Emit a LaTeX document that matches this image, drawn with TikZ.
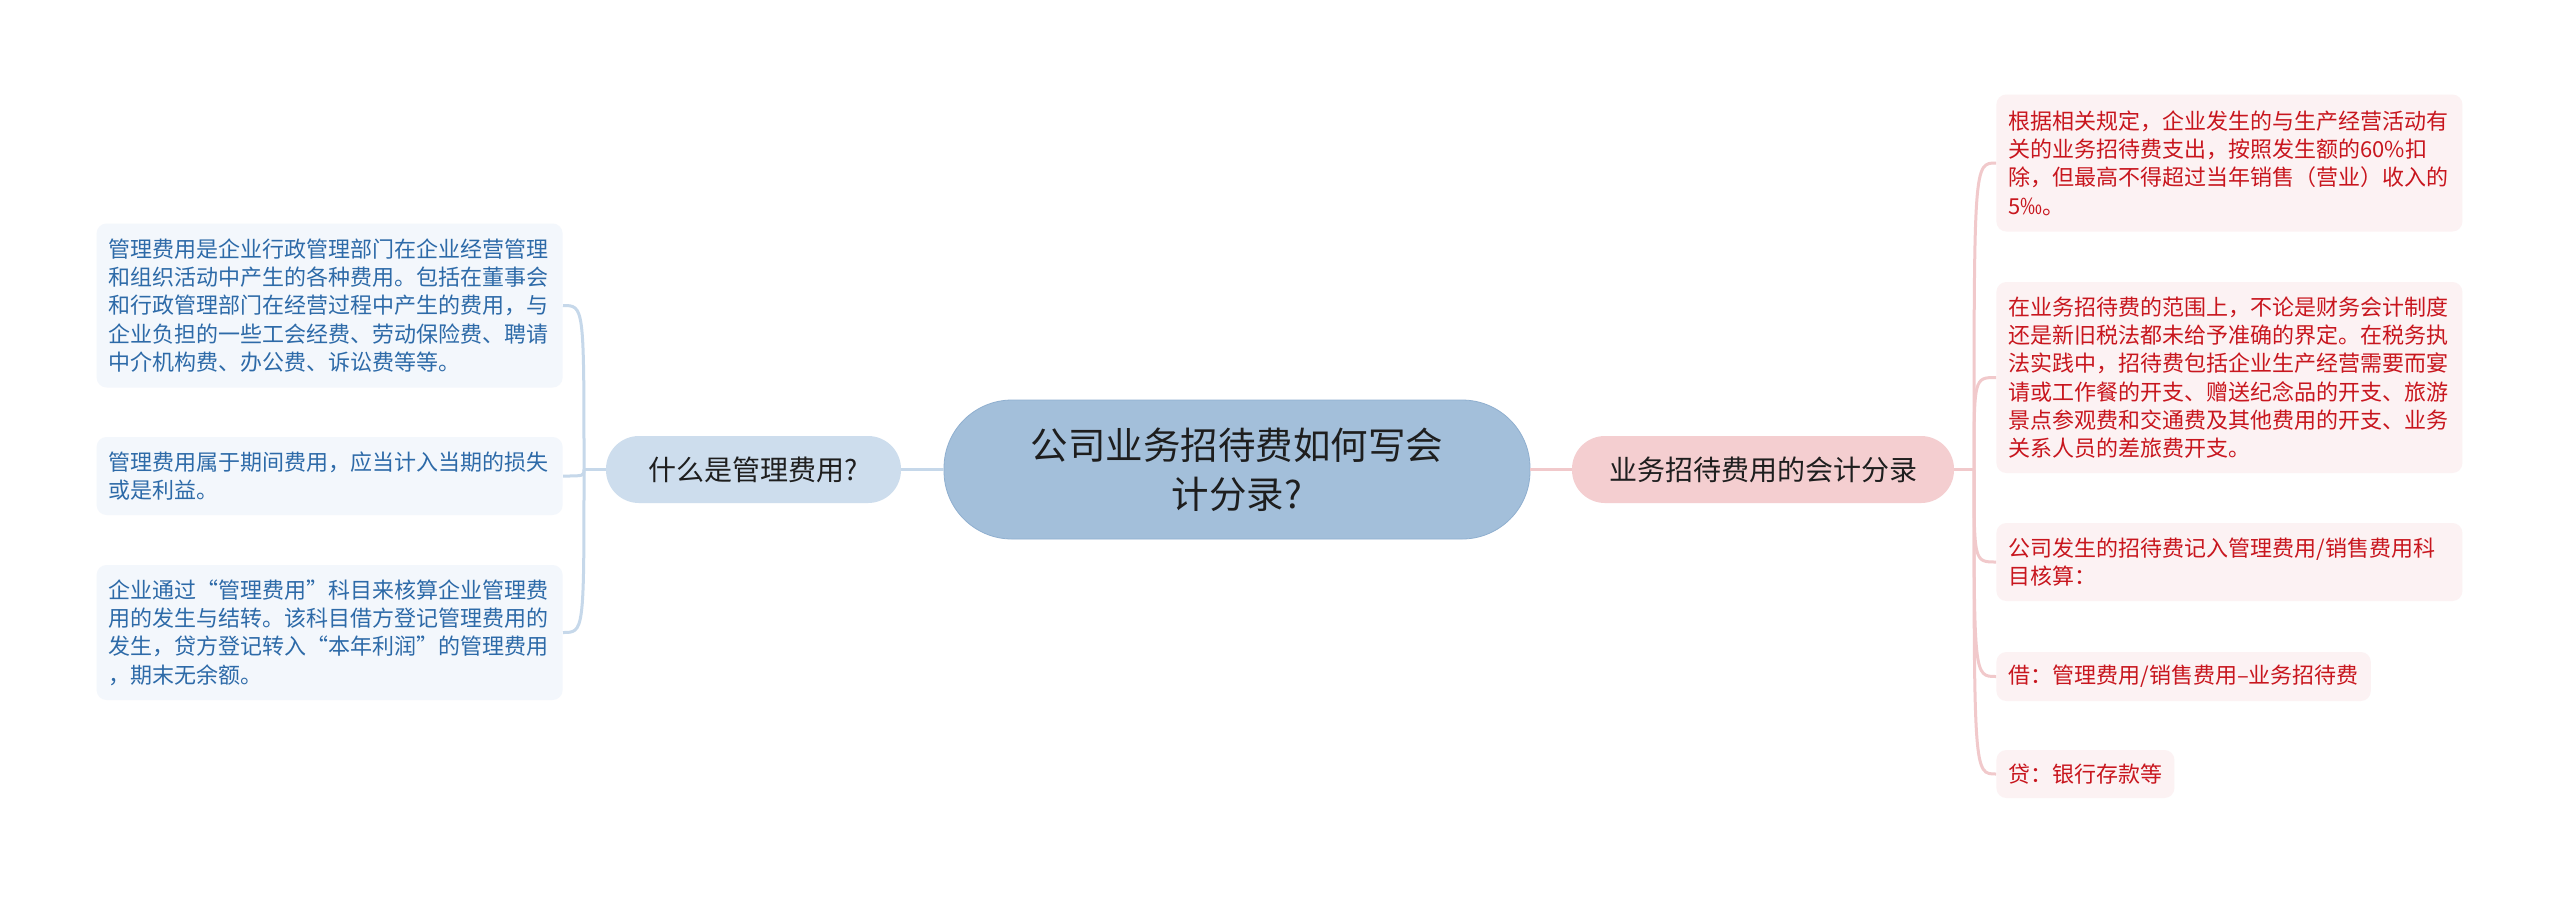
\documentclass[tikz,border=0pt]{standalone}
\usepackage{fontspec}
\setmainfont{Noto Sans CJK SC}
\usepackage{tikz}
\definecolor{rootfill}{HTML}{A3BFDA}
\definecolor{rootline}{HTML}{8FAFCF}
\definecolor{bluefill}{HTML}{CDDDED}
\definecolor{blueleaf}{HTML}{F3F7FC}
\definecolor{bluetext}{HTML}{2D6AA8}
\definecolor{blueline}{HTML}{C6D8EA}
\definecolor{pinkfill}{HTML}{F4CED0}
\definecolor{pinkleaf}{HTML}{FCF2F3}
\definecolor{redtext}{HTML}{C8161E}
\definecolor{pinkline}{HTML}{F1C9CB}
\definecolor{darktext}{HTML}{1E1E1E}
\tikzset{topic/.style={draw=rootline,fill=rootfill,rounded corners=34pt,
		minimum width=293pt,minimum height=69.5pt,align=center,text=darktext,
		font=\fontsize{18.75}{24.5}\selectfont},
	subtopic/.style={rounded corners=16.5pt,minimum height=33.5pt,
		text=darktext,font=\fontsize{14}{17}\selectfont},
	leaf/.style={rounded corners=5pt,inner xsep=6pt,align=left,
		font=\fontsize{11}{14.15}\selectfont},
	wideleaf/.style={leaf,text width=221pt},
	lefttree/.style={draw=blueline,line width=1.5pt},
	righttree/.style={draw=pinkline,line width=1.5pt}}

\begin{document}
\begin{tikzpicture}
	[x=0.5pt,y=-0.5pt]

	\path[fill=white,use as bounding box] (0,0) rectangle (2560,896);

	\node [topic] (root) at (1237,469.5) {公司业务招待费如何写会\\计分录?};

	\node [subtopic,fill=bluefill,minimum width=147.5pt] (what) at (753.5,469.5) {什么是管理费用?};
	\node [subtopic,fill=pinkfill,minimum width=191pt] (entry) at (1763,469.5) {业务招待费用的会计分录};

	\coordinate (lt) at (584,469.5);
	\coordinate (rt) at (1974,469.5);

	\node [wideleaf,fill=blueleaf,text=bluetext,minimum height=82pt,anchor=east] (l1) at (563,305.5)
	{管理费用是企业行政管理部门在企业经营管理\\和组织活动中产生的各种费用。包括在董事会\\和行政管理部门在经营过程中产生的费用，与\\企业负担的一些工会经费、劳动保险费、聘请\\中介机构费、办公费、诉讼费等等。};
	\node [wideleaf,fill=blueleaf,text=bluetext,minimum height=39pt,anchor=east] (l2) at (563,476)
	{管理费用属于期间费用，应当计入当期的损失\\或是利益。};
	\node [wideleaf,fill=blueleaf,text=bluetext,minimum height=67.5pt,anchor=east] (l3) at (563,632.5)
	{企业通过“管理费用”科目来核算企业管理费\\用的发生与结转。该科目借方登记管理费用的\\发生，贷方登记转入“本年利润”的管理费用\\，期末无余额。};

	\node [wideleaf,fill=pinkleaf,text=redtext,minimum height=68.5pt,anchor=west] (r1) at (1996,163)
	{根据相关规定，企业发生的与生产经营活动有\\关的业务招待费支出，按照发生额的60\%扣\\除，但最高不得超过当年销售（营业）收入的\\5‰。};
	\node [wideleaf,fill=pinkleaf,text=redtext,minimum height=95.5pt,anchor=west] (r2) at (1996,377.5)
	{在业务招待费的范围上，不论是财务会计制度\\还是新旧税法都未给予准确的界定。在税务执\\法实践中，招待费包括企业生产经营需要而宴\\请或工作餐的开支、赠送纪念品的开支、旅游\\景点参观费和交通费及其他费用的开支、业务\\关系人员的差旅费开支。};
	\node [wideleaf,fill=pinkleaf,text=redtext,minimum height=39pt,anchor=west] (r3) at (1996,562)
	{公司发生的招待费记入管理费用/销售费用科\\目核算：};
	\node [leaf,fill=pinkleaf,text=redtext,minimum height=24.5pt,anchor=west] (r4) at (1996,676.5)
	{借：管理费用/销售费用–业务招待费};
	\node [leaf,fill=pinkleaf,text=redtext,minimum height=24pt,anchor=west] (r5) at (1996,774)
	{贷：银行存款等};

	\draw [lefttree] (root.west) -- (what.east);
	\draw [lefttree] (what.west) -- (lt);
	\foreach \leafname in {l1,l2,l3}
		\draw [lefttree] (lt) .. controls (lt |- \leafname.east) .. (\leafname.east);

	\draw [righttree] (root.east) -- (entry.west);
	\draw [righttree] (entry.east) -- (rt);
	\foreach \leafname in {r1,r2,r3,r4,r5}
		\draw [righttree] (rt) .. controls (rt |- \leafname.west) .. (\leafname.west);
\end{tikzpicture}
\end{document}
